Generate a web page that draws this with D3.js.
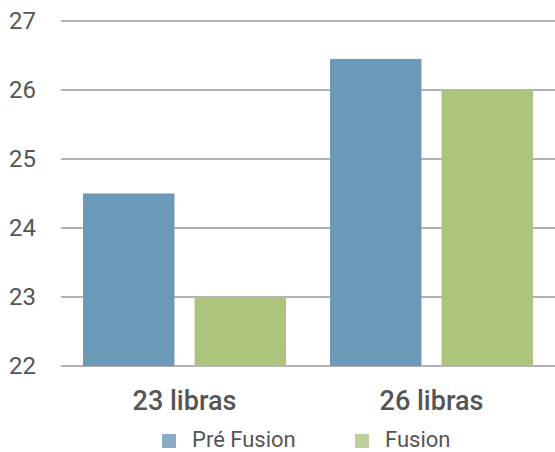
<!DOCTYPE html>
<html><head><meta charset="utf-8">
<script src="https://cdn.jsdelivr.net/npm/d3@7"></script>
<style>body{margin:0;background:#fff}svg{display:block}text{font-family:Roboto,"Noto Sans",sans-serif}</style>
</head><body>
<svg id="c" width="555" height="452"></svg>
<script>
const categories = ["23 libras", "26 libras"];
const seriesNames = ["Pré Fusion", "Fusion"];
const preFusion = [24.5, 26.45];
const fusion = [23, 26];
const yTicks = [22, 23, 24, 25, 26, 27];
const colors = ["#6b9ab8", "#adc47f"];
const legendColors = ["#88abc6", "#bdd09a"];

const svg = d3.select("#c");
const m = {l: 61, r: 0, t: 21, b: 86};
const W = 555, H = 452;
const x0 = d3.scaleBand().domain(categories).range([m.l, W - m.r]).paddingInner(0).paddingOuter(0);
const x1 = d3.scaleBand().domain(seriesNames).range([22, x0.bandwidth() - 22]).paddingInner(0.18).paddingOuter(0);
const y = d3.scaleLinear().domain([22, 27]).range([H - m.b, m.t]);

// grid
svg.append("g").selectAll("line").data(yTicks).join("line")
  .attr("x1", m.l).attr("x2", W).attr("y1", d => y(d)).attr("y2", d => y(d))
  .attr("stroke", "#b3b3b7").attr("stroke-width", 2);

// y labels
const yAxis = d3.axisLeft(y).tickValues(yTicks).tickFormat(d3.format("d")).tickSize(0).tickPadding(0);
const ya = svg.append("g").attr("transform", "translate(36,0)").call(yAxis);
ya.select(".domain").remove();
ya.selectAll("text").attr("font-size", 24).attr("fill", "#555").attr("font-family", "Roboto, sans-serif").attr("dy", "0.3em");

const data = categories.map((c, i) => ({c, vals: [preFusion[i], fusion[i]]}));
const g = svg.append("g").selectAll("g").data(data).join("g")
  .attr("transform", d => `translate(${x0(d.c)},0)`);
g.selectAll("rect").data(d => d.vals.map((v, j) => ({s: seriesNames[j], v, j}))).join("rect")
  .attr("x", d => x1(d.s)).attr("width", x1.bandwidth())
  .attr("y", d => y(d.v)).attr("height", d => y(22) - y(d.v))
  .attr("fill", d => colors[d.j]);

// x labels
const xAxis = d3.axisBottom(x0).tickSize(0).tickPadding(0);
const xa = svg.append("g").attr("transform", `translate(0,${y(22) + 44})`).call(xAxis);
xa.select(".domain").remove();
xa.selectAll("text").attr("font-size", 27).attr("font-weight", 500).attr("fill", "#555")
  .attr("font-family", "Roboto, sans-serif").attr("dy", 0);

// legend
const lx = [162, 355];
const lg = svg.append("g").selectAll("g").data(seriesNames).join("g")
  .attr("transform", (d, i) => `translate(${lx[i]},434)`);
lg.append("rect").attr("width", 14).attr("height", 14).attr("fill", (d, i) => legendColors[i]);
lg.append("text").attr("x", 30).attr("y", 13).attr("font-size", 22).attr("fill", "#555").text(d => d);
</script>
</body></html>
